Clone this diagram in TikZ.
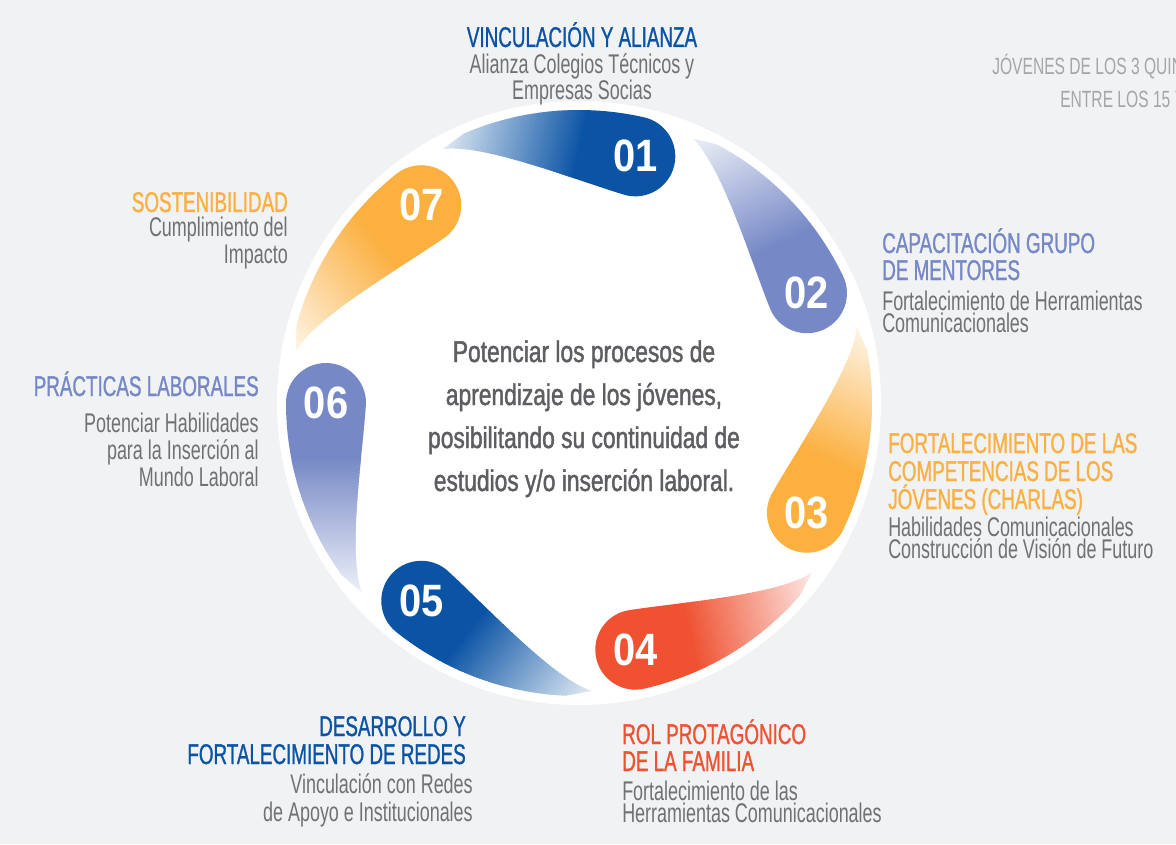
\documentclass[tikz,border=0pt]{standalone}
\usepackage{fontspec}
\setmainfont{Liberation Sans}
\newfontfamily\condfont[FakeStretch=0.665]{Liberation Sans}
\newfontfamily\titfont[FakeStretch=0.66,FakeBold=1]{Liberation Sans}
\newfontfamily\midfont[FakeStretch=0.76,FakeBold=1.4]{Liberation Sans}
\newfontfamily\numfont[FakeStretch=0.88]{Liberation Sans}
\usetikzlibrary{calc}
\definecolor{bg}{HTML}{F1F2F4}
\definecolor{cblue}{HTML}{0B54A5}
\definecolor{cperi}{HTML}{7689C6}
\definecolor{corange}{HTML}{FBB040}
\definecolor{cred}{HTML}{EF5131}
\definecolor{descgray}{HTML}{707174}
\definecolor{centergray}{HTML}{5D5E61}
\definecolor{topgray}{HTML}{A5A6A9}
\newcommand\tdrop[2]{%
  \begin{scope}[shift={(C)}, rotate=#1]
    \clip (-213,0) arc[start angle=0,end angle=180,radius=40]
      arc[start angle=180,end angle=216,radius=293]
      -- (-217.4,-189) .. controls (-232,-150) and (-216,-50) .. cycle;
    \fill[#2] (-310,50) rectangle (-195,-55);
    \foreach \i in {0,...,46}{%
      \pgfmathsetmacro\pct{100-90*\i/46}%
      \fill[#2!\pct!white] (-310,{-55-3*\i+0.6}) rectangle (-195,{-58-3*\i-0.6});
    }
  \end{scope}}
\begin{document}
\begin{tikzpicture}[x=0.75pt,y=0.75pt,
  title/.style={font=\titfont\fontsize{21.4}{24}\selectfont, inner sep=0pt},
  desc/.style={font=\condfont\fontsize{20.25}{24}\selectfont, text=descgray, inner sep=0pt},
  num/.style={font=\numfont\bfseries\fontsize{34}{36}\selectfont, text=white, inner sep=0pt},
  ctext/.style={font=\midfont\fontsize{22.5}{26}\selectfont, text=centergray, inner sep=0pt, anchor=base},
  toptext/.style={font=\condfont\fontsize{17.6}{20}\selectfont, text=topgray, inner sep=0pt, anchor=base west}]
\useasboundingbox (0,0) rectangle (1176,844);
\fill[bg] (0,0) rectangle (1176,844);
\coordinate (C) at (579,441);
\fill[white] (C) circle (302);
% teardrops
\tdrop{0}{cperi}
\tdrop{-51.4286}{corange}
\tdrop{-102.857}{cblue}
\tdrop{-154.286}{cperi}
\tdrop{-205.714}{corange}
\tdrop{-257.143}{cred}
\tdrop{-308.571}{cblue}
% numbers
\node[num] (n1) at ($(C)+(77.143:253)$) {01};
\node[num] (n2) at ($(C)+(25.714:253)$) {02};
\node[num] (n3) at ($(C)+(-25.714:253)$) {03};
\node[num] (n4) at ($(C)+(-77.143:253)$) {04};
\node[num] (n5) at ($(C)+(-128.571:253)$) {05};
\node[num] (n6) at ($(C)+(180:253)$) {06};
\node[num] (n7) at ($(C)+(128.571:253)$) {07};
% center text
\node[ctext] (c1) at (584,482) {Potenciar los procesos de};
\node[ctext] (c2) at (584,439) {aprendizaje de los jóvenes,};
\node[ctext] (c3) at (584,396) {posibilitando su continuidad de};
\node[ctext] (c4) at (584,353) {estudios y/o inserción laboral.};
% 01
\node[title, text=cblue, anchor=base] (t1a) at (582,797) {VINCULACIÓN Y ALIANZA};
\node[desc, anchor=base] (d1a) at (582,770) {Alianza Colegios Técnicos y};
\node[desc, anchor=base] (d1b) at (582,744) {Empresas Socias};
% 02
\node[title, text=cperi, anchor=base west] (t2a) at (882,591) {CAPACITACIÓN GRUPO};
\node[title, text=cperi, anchor=base west] (t2b) at (882,564) {DE MENTORES};
\node[desc, anchor=base west] (d2a) at (882,534) {Fortalecimiento de Herramientas};
\node[desc, anchor=base west] (d2b) at (882,512) {Comunicacionales};
% 03
\node[title, text=corange, anchor=base west] (t3a) at (888,391) {FORTALECIMIENTO DE LAS};
\node[title, text=corange, anchor=base west] (t3b) at (888,363) {COMPETENCIAS DE LOS};
\node[title, text=corange, anchor=base west] (t3c) at (888,335) {JÓVENES (CHARLAS)};
\node[desc, anchor=base west] (d3a) at (888,308) {Habilidades Comunicacionales};
\node[desc, anchor=base west] (d3b) at (888,286) {Construcción de Visión de Futuro};
% 04
\node[title, text=cred, anchor=base west] (t4a) at (622,100) {ROL PROTAGÓNICO};
\node[title, text=cred, anchor=base west] (t4b) at (622,73) {DE LA FAMILIA};
\node[desc, anchor=base west] (d4a) at (622,44) {Fortalecimiento de las};
\node[desc, anchor=base west] (d4b) at (622,22) {Herramientas Comunicacionales};
% 05
\node[title, text=cblue, anchor=base east] (t5a) at (466,108) {DESARROLLO Y};
\node[title, text=cblue, anchor=base east] (t5b) at (466,80) {FORTALECIMIENTO DE REDES};
\node[desc, anchor=base east] (d5a) at (473,51) {Vinculación con Redes};
\node[desc, anchor=base east] (d5b) at (473,23) {de Apoyo e Institucionales};
% 06
\node[title, text=cperi, anchor=base east] (t6a) at (259,448) {PRÁCTICAS LABORALES};
\node[desc, anchor=base east] (d6a) at (259,412) {Potenciar Habilidades};
\node[desc, anchor=base east] (d6b) at (259,385) {para la Inserción al};
\node[desc, anchor=base east] (d6c) at (259,358) {Mundo Laboral};
% 07
\node[title, text=corange, anchor=base east] (t7a) at (288,632) {SOSTENIBILIDAD};
\node[desc, anchor=base east] (d7a) at (288,608) {Cumplimiento del};
\node[desc, anchor=base east] (d7b) at (288,581) {Impacto};
% top right
\node[toptext] (tr1) at (992,769) {JÓVENES DE LOS 3 QUIN};
\node[toptext] (tr2) at (1060,736) {ENTRE LOS 15 Y};
\end{tikzpicture}
\end{document}
